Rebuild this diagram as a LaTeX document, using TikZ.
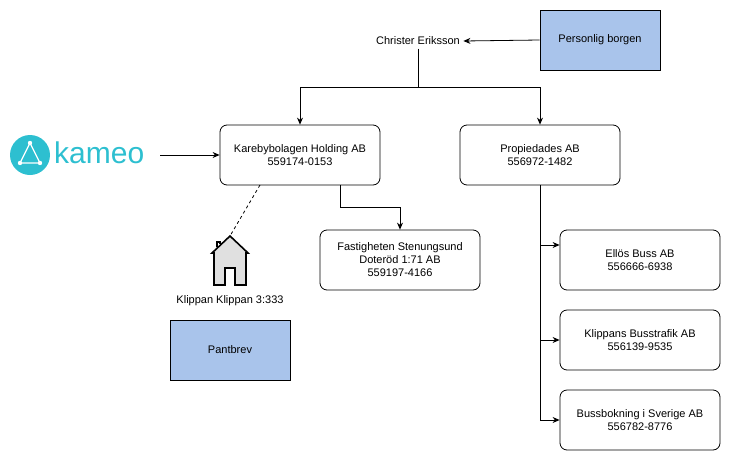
\documentclass[tikz,border=0pt]{standalone}
\usepackage{fontspec}
\setmainfont{Liberation Sans}
\usetikzlibrary{arrows.meta}
\definecolor{bl}{HTML}{A9C4EB}
\definecolor{tl}{HTML}{2DBFD0}
\begin{document}
\begin{tikzpicture}[x=1pt,y=-1pt,font=\fontsize{11}{13}\selectfont,
 box/.style={draw,rounded corners=7pt,minimum width=160pt,minimum height=60pt,align=center,line width=0.8pt},
 sq/.style={draw,fill=bl,minimum width=120pt,minimum height=60pt,line width=0.8pt},
 arr/.style={-{Stealth[length=7pt,width=6pt]},line width=0.8pt},
 ln/.style={line width=0.8pt}]
\useasboundingbox (0,0) rectangle (731,461);
\node (ce) at (418,41) {Christer Eriksson};
\node[sq] (pb) at (600,40) {Personlig borgen};
\node[box] (kh) at (300,155) {Karebybolagen Holding AB\\559174-0153};
\node[box] (pr) at (540,155) {Propiedades AB\\556972-1482};
\node[box] (fs) at (400,260) {Fastigheten Stenungsund\\Doteröd 1:71 AB\\559197-4166};
\node[box] (el) at (640,260) {Ellös Buss AB\\556666-6938};
\node[box] (kb) at (640,340) {Klippans Busstrafik AB\\556139-9535};
\node[box] (bs) at (640,420) {Bussbokning i Sverige AB\\556782-8776};
\node[sq] (pa) at (230,350) {Pantbrev};
\node (kl) at (230,301) {Klippan Klippan 3:333};
% kameo logo
\fill[tl] (30,155) circle (20);
\draw[white,line width=1.2pt] (30,143) -- (20,163) -- (40,163) -- cycle;
\fill[white] (30,143) circle (2.2) (20,163) circle (2.2) (40,163) circle (2.2);
\node[anchor=west,text=tl,font=\fontsize{30}{30}\selectfont,inner sep=0] (km) at (54,153) {kameo};
\coordinate (kmr) at (160,155);
% house
\coordinate (hs) at (230,236);
\draw[fill=black!12,line width=1.6pt,line join=miter] (212,253) -- (230,236) -- (248,253) -- (246,253) -- (246,285) -- (235,285) -- (235,268) -- (225,268) -- (225,285) -- (214,285) -- (214,253) -- cycle;
\draw[line width=1.2pt] (217,247) -- (217,242) -- (220,242) -- (220,244);
\draw[dashed,ln] (260,185) -- (hs);
% connectors
\draw[arr] (pb.west) -- (ce.east);
\draw[arr] (ce.south) -- (418,87) -| (kh.north);
\draw[arr] (418,87) -| (pr.north);
\draw[arr] (kmr) -- (kh.west);
\draw[arr] (340,185) |- (400,207) -- (fs.north);
\draw[ln] (pr.south) -- (540,420);
\draw[arr] (540,245) -- (el.west |- 0,245);
\draw[arr] (540,340) -- (kb.west);
\draw[arr] (540,420) -- (bs.west);
\end{tikzpicture}
\end{document}
